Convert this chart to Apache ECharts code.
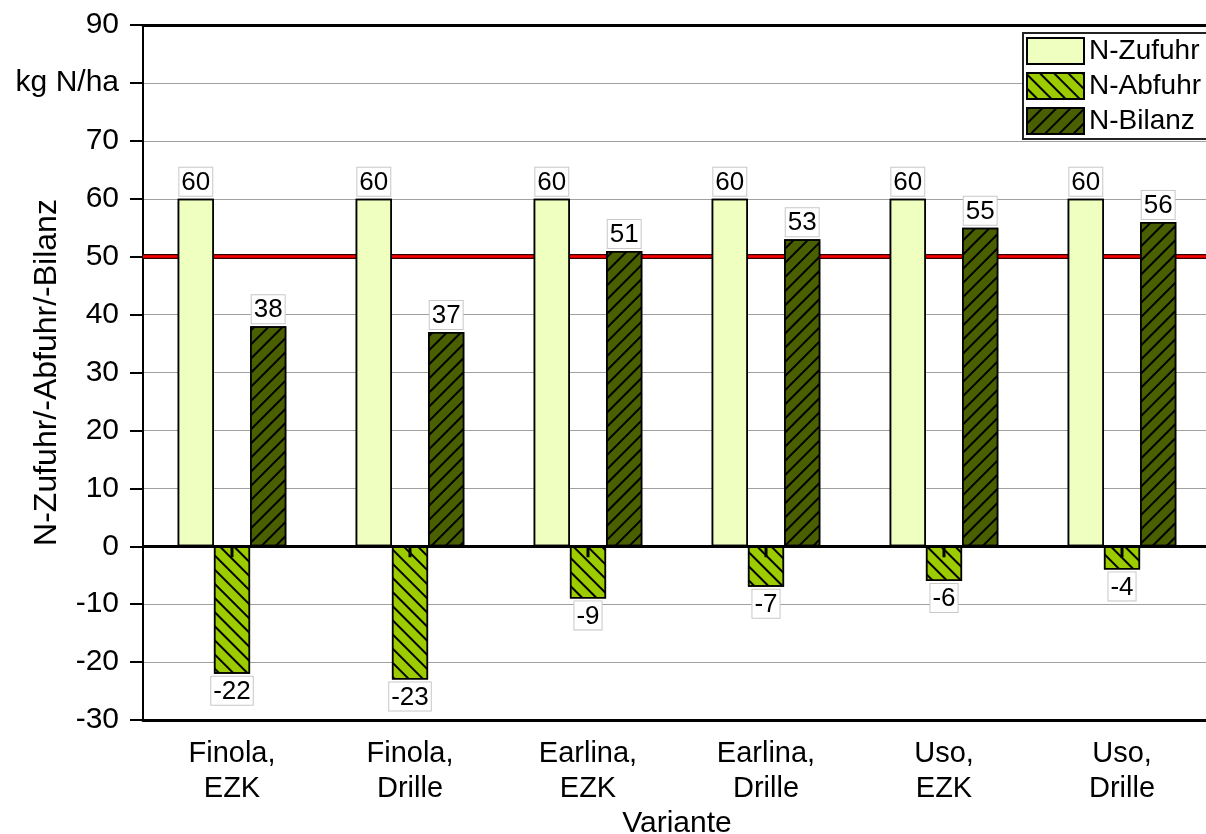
<!DOCTYPE html>
<html><head><meta charset="utf-8">
<script src="https://cdn.jsdelivr.net/npm/echarts@6/dist/echarts.min.js"></script>
<style>html,body{margin:0;padding:0;background:#fff}#c{width:1206px;height:834px}</style>
</head><body><div id="c"></div>
<script>
const categories = ['Finola,\nEZK','Finola,\nDrille','Earlina,\nEZK','Earlina,\nDrille','Uso,\nEZK','Uso,\nDrille'];
const zufuhr = [60,60,60,60,60,60];
const abfuhr = [-22,-23,-9,-7,-6,-4];
const bilanz = [38,37,51,53,55,56];
const limitLine = 50;
const seriesNames = ['N-Zufuhr','N-Abfuhr','N-Bilanz'];

const FONT = 'Liberation Sans, Arial, sans-serif';
const lbl = (pos) => ({
  show: true, position: pos, distance: 3,
  fontFamily: FONT, fontSize: 26, color: '#000',
  backgroundColor: '#fff', borderColor: '#c8c8c8', borderWidth: 1,
  padding: [2, 2, 0, 2]
});

const chart = echarts.init(document.getElementById('c'));
chart.setOption({
  animation: false,
  aria: { enabled: true, decal: { show: true } },
  grid: { left: 143, top: 25, width: 1068, height: 695, containLabel: false, outerBoundsMode: 'none' },
  legend: {
    orient: 'vertical', left: 1023, top: 33,
    itemWidth: 57, itemHeight: 26, itemGap: 7,
    backgroundColor: '#fff', borderColor: '#222', borderWidth: 2,
    padding: [4, 6, 4, 3],
    textStyle: { fontFamily: FONT, fontSize: 28, color: '#000' },
    data: seriesNames.map(n => ({ name: n, icon: 'rect' }))
  },
  xAxis: [{
    type: 'category', data: categories, position: 'bottom',
    axisLine: { onZero: false, lineStyle: { color: '#000', width: 3 } },
    axisTick: { show: false },
    axisLabel: { fontFamily: FONT, fontSize: 29, color: '#000', margin: 16, lineHeight: 35 },
    name: 'Variante', nameLocation: 'middle', nameGap: 89, nameMoveOverlap: false,
    nameTextStyle: { fontFamily: FONT, fontSize: 30, color: '#000' }
  }, {
    type: 'category', data: categories, position: 'top',
    axisLine: { onZero: false, lineStyle: { color: '#000', width: 3 } },
    axisTick: { show: false }, axisLabel: { show: false }
  }],
  yAxis: {
    type: 'value', min: -30, max: 90, interval: 10,
    axisLine: { show: true, lineStyle: { color: '#000', width: 2 } },
    axisTick: { show: true, inside: false, length: 13, lineStyle: { color: '#000', width: 2 } },
    axisLabel: { fontFamily: FONT, fontSize: 30, color: '#000', margin: 24,
      formatter: v => v === 80 ? 'kg N/ha' : String(v) },
    splitLine: { show: true, lineStyle: { color: '#a0a0a0', width: 1 } },
    name: 'N-Zufuhr/-Abfuhr/-Bilanz', nameLocation: 'middle', nameGap: 80, nameMoveOverlap: false,
    nameTextStyle: { fontFamily: FONT, fontSize: 32, color: '#000' }
  },
  series: [
    {
      name: seriesNames[0], type: 'bar', data: zufuhr, barGap: '0%', barCategoryGap: '39%',
      itemStyle: { color: '#eeffc0', borderColor: '#000', borderWidth: 1.5, decal: { symbol: 'none' } },
      label: lbl('top'),
      markLine: {
        silent: true, symbol: 'none', z: 1, label: { show: false },
        data: [
          { yAxis: limitLine, lineStyle: { color: '#300', width: 5, type: 'solid' } },
          { yAxis: limitLine, lineStyle: { color: '#ff0000', width: 2.5, type: 'solid' } }
        ]
      }
    },
    {
      name: seriesNames[1], type: 'bar', data: abfuhr, barGap: '0%', barCategoryGap: '39%',
      itemStyle: { color: '#9ccc00', borderColor: '#000', borderWidth: 1.5,
        decal: { symbol: 'rect', color: '#000', backgroundColor: null, dashArrayX: [1, 0], dashArrayY: [2, 7.4], rotation: Math.PI / 4, symbolSize: 1 } },
      label: lbl('bottom')
    },
    {
      name: seriesNames[2], type: 'bar', data: bilanz, barGap: '0%', barCategoryGap: '39%',
      itemStyle: { color: '#4a6000', borderColor: '#000', borderWidth: 1.5,
        decal: { symbol: 'rect', color: '#000', backgroundColor: null, dashArrayX: [1, 0], dashArrayY: [2, 7.4], rotation: -Math.PI / 4, symbolSize: 1 } },
      label: lbl('top'),
      markLine: {
        silent: true, symbol: 'none', z: 5, label: { show: false },
        data: [{ yAxis: 0, lineStyle: { color: '#000', width: 3, type: 'solid' } }]
      }
    },
    {
      name: 'tick', type: 'custom', z: 6, silent: true,
      data: abfuhr.map((v, i) => [i, 0]),
      renderItem: (params, api) => {
        const p = api.coord([api.value(0), 0]);
        return { type: 'line', shape: { x1: p[0], y1: p[1], x2: p[0], y2: p[1] + 11 },
          style: { stroke: '#000', lineWidth: 3 } };
      }
    }
  ]
});
</script></body></html>
